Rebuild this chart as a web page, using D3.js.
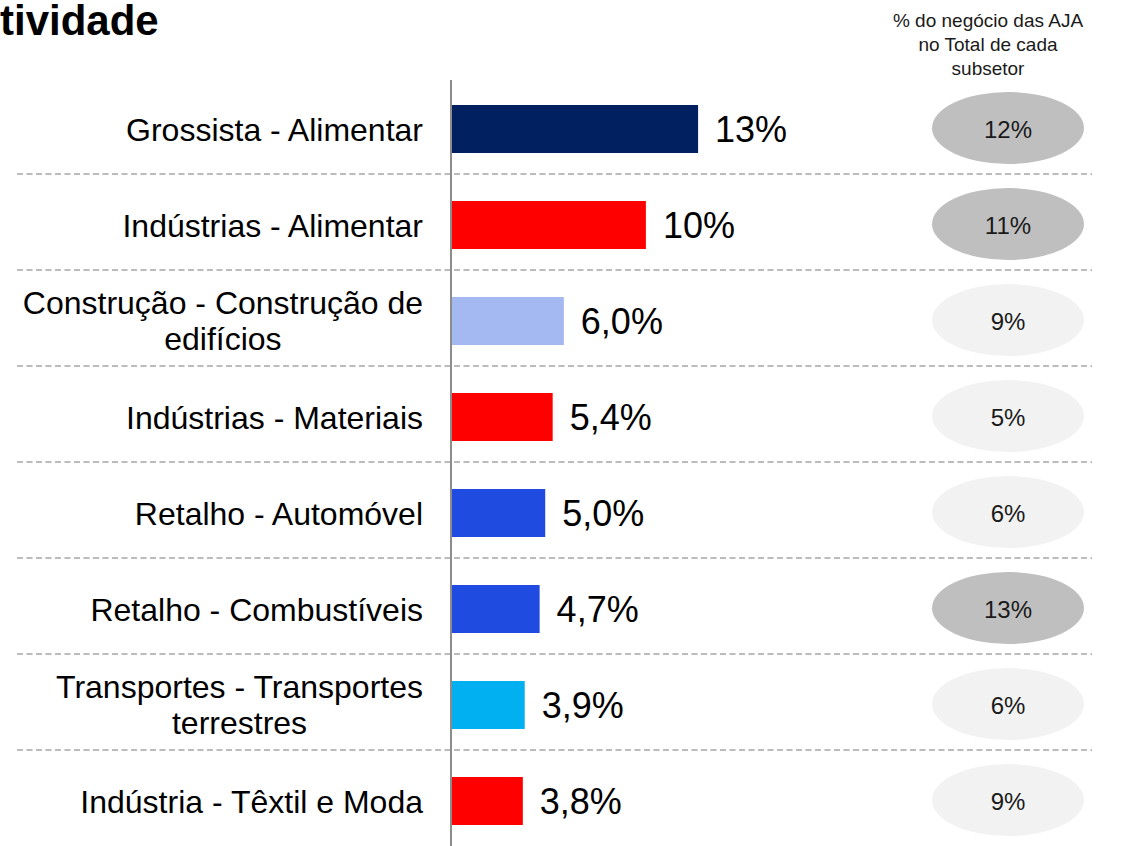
<!DOCTYPE html>
<html>
<head>
<meta charset="utf-8">
<script src="https://cdn.jsdelivr.net/npm/d3@7"></script>
<style>
  body { margin: 0; background: #fff; }
  svg { display: block; }
  svg text { font-family: Arial, "Liberation Sans", Helvetica, sans-serif; }
</style>
</head>
<body>
<div id="chart"></div>
<script>
// data
var categories = [
  ["Grossista - Alimentar"],
  ["Indústrias - Alimentar"],
  ["Construção - Construção de", "edifícios"],
  ["Indústrias - Materiais"],
  ["Retalho - Automóvel"],
  ["Retalho - Combustíveis"],
  ["Transportes - Transportes", "terrestres"],
  ["Indústria - Têxtil e Moda"]
];
var shareValues = [13.2, 10.4, 6.0, 5.4, 5.0, 4.7, 3.9, 3.8];
var barColors = ["#002060", "#ff0000", "#a4b8f1", "#ff0000", "#1f4be0", "#1f4be0", "#00b0f0", "#ff0000"];
var ajaValues = [12, 11, 9, 5, 6, 13, 6, 9];
var ajaHighlight = [true, true, false, false, false, true, false, false];
var headerLines = ["% do negócio das AJA", "no Total de cada", "subsetor"];

var width = 1135, height = 846;

var svg = d3
  .select("#chart")
  .append("svg")
  .attr("width", width)
  .attr("height", height);

var idx = d3.range(categories.length);

var y = d3.scaleBand().domain(idx).range([81, 849]).padding(0);
var x = d3.scaleLinear().domain([0, 14]).range([452, 713]);

var fmt = function (v) {
  return v >= 10 ? Math.round(v) + "%" : v.toFixed(1).replace(".", ",") + "%";
};

// title (cut off at left edge)
svg
  .append("text")
  .attr("x", 0)
  .attr("y", 35)
  .style("font-size", "42px")
  .style("font-weight", "bold")
  .text("tividade");

// header on the right
svg
  .append("text")
  .attr("text-anchor", "middle")
  .style("font-size", "19px")
  .style("fill", "#1a1a1a")
  .selectAll("tspan")
  .data(headerLines)
  .enter()
  .append("tspan")
  .attr("x", 988)
  .attr("y", function (d, i) { return 27 + i * 24; })
  .text(function (d) { return d; });

// dashed separators
svg
  .selectAll(".sep")
  .data(idx.slice(0, -1))
  .enter()
  .append("line")
  .attr("class", "sep")
  .attr("x1", 17)
  .attr("x2", 1092)
  .attr("y1", function (d) { return y(d) + y.bandwidth() / 2 + 45; })
  .attr("y2", function (d) { return y(d) + y.bandwidth() / 2 + 45; })
  .style("stroke", "#a6a6a6")
  .style("stroke-width", 1.3)
  .style("stroke-dasharray", "6,3.5");

// bars
svg
  .selectAll(".bar")
  .data(idx)
  .enter()
  .append("rect")
  .attr("class", "bar")
  .attr("x", x(0))
  .attr("y", function (d) { return y(d) + y.bandwidth() / 2 - 24; })
  .attr("width", function (d) { return x(shareValues[d]) - x(0); })
  .attr("height", 48)
  .style("fill", function (d) { return barColors[d]; });

// axis line
svg
  .append("line")
  .attr("x1", 451)
  .attr("x2", 451)
  .attr("y1", 80)
  .attr("y2", height)
  .style("stroke", "#8c8c8c")
  .style("stroke-width", 2);

// value labels
svg
  .selectAll(".val")
  .data(idx)
  .enter()
  .append("text")
  .attr("class", "val")
  .attr("x", function (d) { return x(shareValues[d]) + 17; })
  .attr("y", function (d) { return y(d) + y.bandwidth() / 2 + 13; })
  .style("font-size", "36px")
  .text(function (d) { return fmt(shareValues[d]); });

// category labels
var labelRight = 423;
svg
  .selectAll(".cat")
  .data(idx)
  .enter()
  .append("text")
  .attr("class", "cat")
  .style("font-size", "32px")
  .each(function (d) {
    var lines = categories[d];
    var t = d3.select(this);
    var cy = y(d) + y.bandwidth() / 2;
    if (lines.length === 1) {
      t.append("tspan").attr("x", labelRight).attr("y", cy + 11.5)
        .attr("text-anchor", "end").text(lines[0]);
    } else {
      var first = t.append("tspan").attr("x", labelRight).attr("y", cy - 19 + 11.5)
        .attr("text-anchor", "end").text(lines[0]);
      var w = first.node().getComputedTextLength();
      t.append("tspan").attr("x", labelRight - w / 2).attr("y", cy + 17 + 11.5)
        .attr("text-anchor", "middle").text(lines[1]);
    }
  });

// ellipses on the right
svg
  .selectAll(".ell")
  .data(idx)
  .enter()
  .append("ellipse")
  .attr("class", "ell")
  .attr("cx", 1008)
  .attr("cy", function (d) { return y(d) + y.bandwidth() / 2 - 1; })
  .attr("rx", 76)
  .attr("ry", 36)
  .style("fill", function (d) { return ajaHighlight[d] ? "#bfbfbf" : "#f2f2f2"; });

svg
  .selectAll(".aja")
  .data(idx)
  .enter()
  .append("text")
  .attr("class", "aja")
  .attr("x", 1008)
  .attr("y", function (d) { return y(d) + y.bandwidth() / 2 + 8.5; })
  .attr("text-anchor", "middle")
  .style("font-size", "24px")
  .style("fill", "#1a1a1a")
  .text(function (d) { return ajaValues[d] + "%"; });
</script>
</body>
</html>
